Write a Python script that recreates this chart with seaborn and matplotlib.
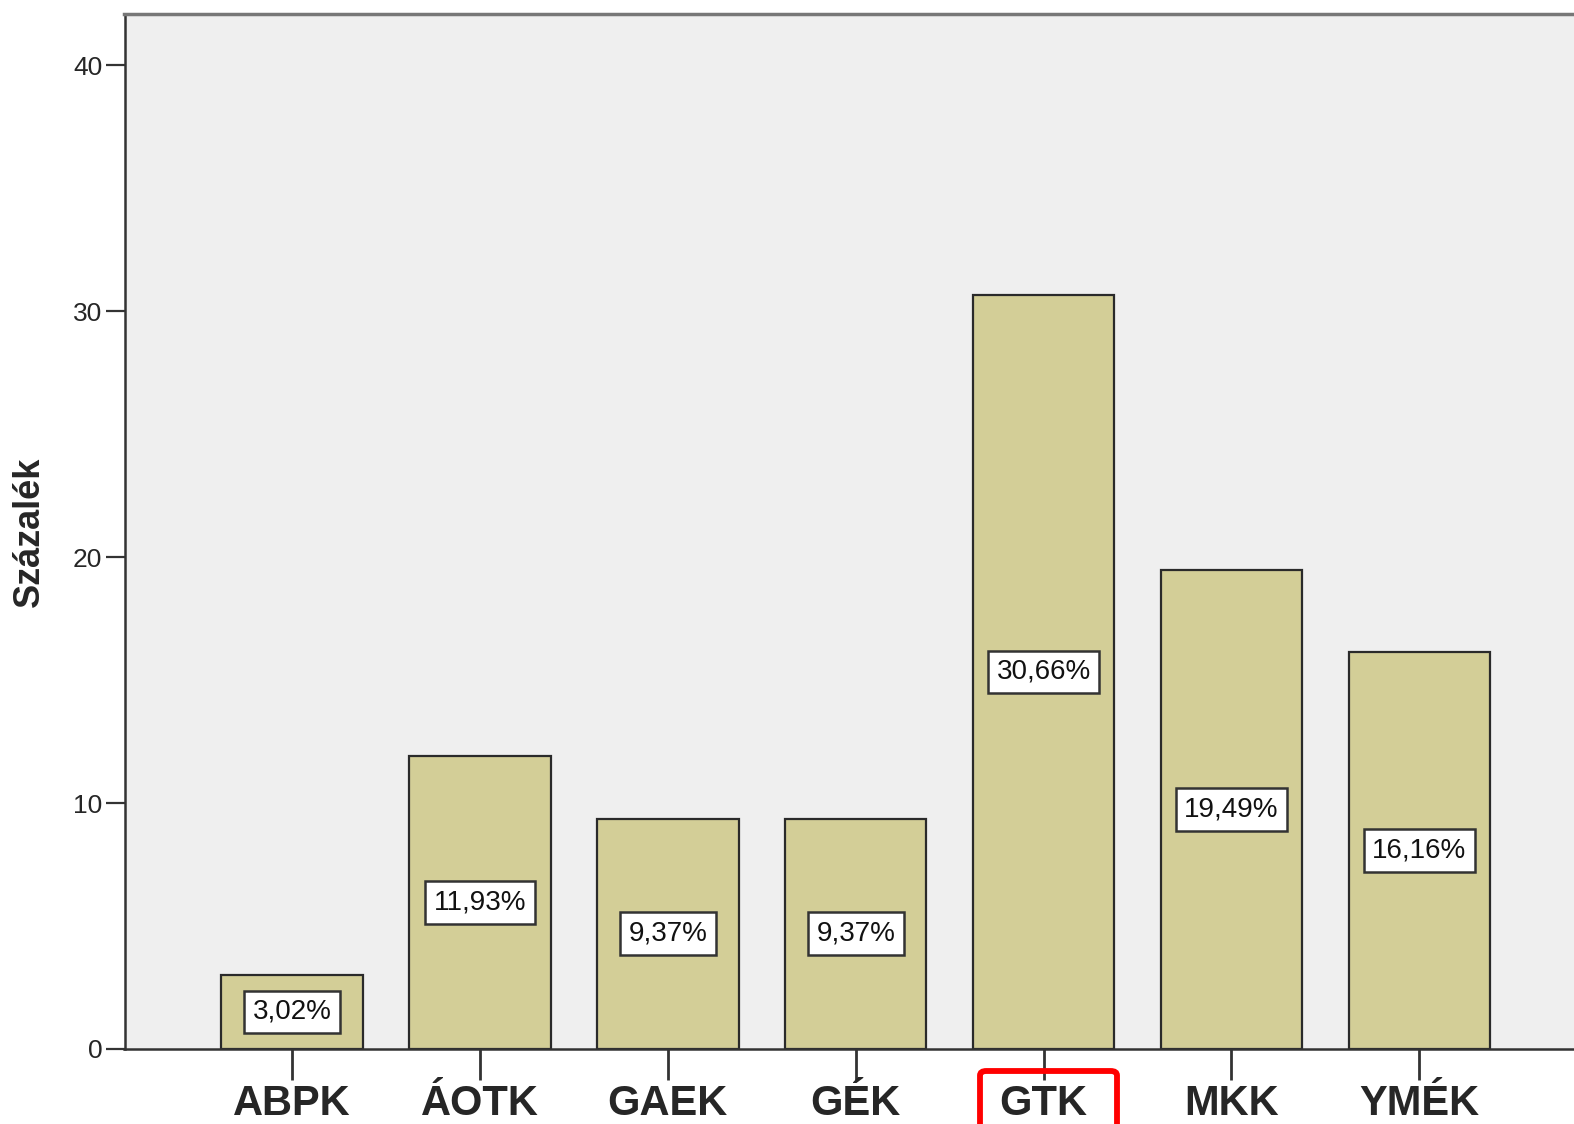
import matplotlib
matplotlib.use("Agg")
import matplotlib.pyplot as plt
import seaborn as sns
import pandas as pd
from matplotlib.patches import FancyBboxPatch

categories = ["ABPK", "ÁOTK", "GAEK", "GÉK", "GTK", "MKK", "YMÉK"]
values = [3.02, 11.93, 9.37, 9.37, 30.66, 19.49, 16.16]
value_labels = ["3,02%", "11,93%", "9,37%", "9,37%", "30,66%", "19,49%", "16,16%"]
y_ticks = [0, 10, 20, 30, 40]

sns.set_theme(style="ticks")
plt.rcParams['font.family'] = ['Liberation Sans', 'DejaVu Sans']

df = pd.DataFrame({"kar": categories, "pct": values})

fig = plt.figure(figsize=(15.74, 11.24), dpi=100)
fig.patch.set_facecolor("white")
ax = fig.add_axes([124.5/1574, 75/1124, 1 - 124.5/1574, (1049-14)/1124])
ax.set_facecolor("#EFEFEF")

sns.barplot(data=df, x="kar", y="pct", order=categories, color="#D3CE97",
            saturation=1, width=0.753, edgecolor="#2a2a2a", linewidth=1.6, ax=ax)

for i, (v, lab) in enumerate(zip(values, value_labels)):
    ax.text(i, v / 2, lab, ha="center", va="center", fontsize=20, color="#111111",
            bbox=dict(boxstyle="square,pad=0.3", facecolor="white", edgecolor="#333333", linewidth=1.8))

ax.set_xlim(-0.892, 6.823)
ax.set_ylim(0, 42.08)
ax.set_yticks(y_ticks)
ax.set_yticklabels([str(t) for t in y_ticks], fontsize=19)
ax.tick_params(axis="y", length=14, width=1.6, color="#333333", pad=2)
ax.tick_params(axis="x", length=22, width=2, color="#333333", pad=3)
for lab in ax.get_xticklabels():
    lab.set_fontsize(30)
    lab.set_fontweight("bold")
ax.set_xlabel("")
ax.set_ylabel("Százalék", fontsize=26, fontweight="bold")
ax.yaxis.set_label_coords(-(124.5 - 47) / (1574 - 124.5), 0.5)

for s in ["left", "bottom"]:
    ax.spines[s].set_linewidth(1.8)
    ax.spines[s].set_color("#333333")
ax.spines["top"].set_linewidth(2.5)
ax.spines["top"].set_color("#777777")
ax.spines["right"].set_visible(False)

rect = FancyBboxPatch((980/1574, -0.05), 137/1574, 0.05 + (1124-1071)/1124,
                      boxstyle="round,pad=0,rounding_size=0.004",
                      transform=fig.transFigure, fill=False, edgecolor="#FF0000",
                      linewidth=4.2, clip_on=False)
fig.patches.append(rect)

fig.savefig("out.png", dpi=100)
